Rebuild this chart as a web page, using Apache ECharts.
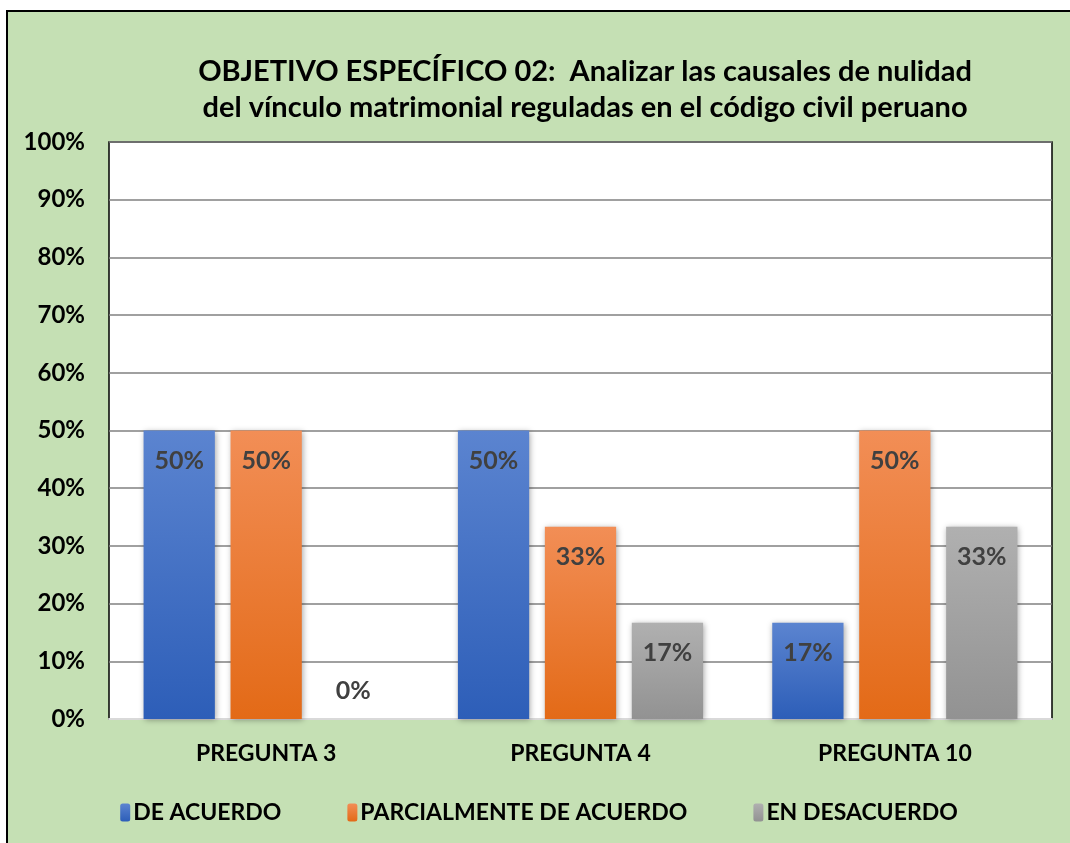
<!DOCTYPE html>
<html>
<head>
<meta charset="utf-8">
<script src="https://cdn.jsdelivr.net/npm/echarts@6/dist/echarts.min.js"></script>
<style>
  html, body { margin: 0; padding: 0; background: #fff; }
  #frame {
    position: absolute; left: 6px; top: 10px;
    border-left: 2px solid #000; border-top: 2px solid #000;
    background: #c5e0b4;
  }
  #chart { width: 1062px; height: 831px; }
</style>
</head>
<body>
<div id="frame"><div id="chart"></div></div>
<script>
// datos del gráfico
var preguntas = ['PREGUNTA 3', 'PREGUNTA 4', 'PREGUNTA 10'];
var deAcuerdo = [50, 50, 16.7];
var parcialmente = [50, 33.3, 50];
var desacuerdo = [0, 16.7, 33.3];
var nombres = ['DE ACUERDO', 'PARCIALMENTE DE ACUERDO', 'EN DESACUERDO'];

var FONT = 'Lato';

function degradado(arriba, abajo) {
  return new echarts.graphic.LinearGradient(0, 0, 0, 1, [
    { offset: 0, color: arriba },
    { offset: 1, color: abajo }
  ]);
}

// el 0% se dibuja encima del eje
function puntos(valores) {
  return valores.map(function (v) {
    if (v === 0) {
      return { value: v, label: { position: 'insideBottom', distance: 16 } };
    }
    return v;
  });
}

function serie(nombre, valores, arriba, abajo) {
  return {
    name: nombre,
    type: 'bar',
    data: puntos(valores),
    barGap: '22%',
    barCategoryGap: '22%',
    itemStyle: {
      color: degradado(arriba, abajo),
      shadowColor: 'rgba(0,0,0,0.35)',
      shadowBlur: 6,
      shadowOffsetX: 1,
      shadowOffsetY: 1
    },
    label: {
      show: true,
      position: 'insideTop',
      distance: 18,
      color: '#404040',
      fontFamily: FONT,
      fontWeight: 'bold',
      fontSize: 25,
      formatter: function (p) { return Math.round(p.value) + '%'; }
    }
  };
}

var myChart = echarts.init(document.getElementById('chart'));

var option = {
  animation: false,
  backgroundColor: '#c5e0b4',
  title: {
    text: 'OBJETIVO ESPECÍFICO 02:  Analizar las causales de nulidad\ndel vínculo matrimonial reguladas en el código civil peruano',
    left: 577,
    top: 42,
    padding: 0,
    textAlign: 'center',
    textStyle: {
      fontFamily: FONT,
      fontWeight: 'bold',
      fontSize: 29,
      lineHeight: 36,
      color: '#000'
    }
  },
  legend: {
    data: nombres,
    left: 'center',
    top: 784,
    itemWidth: 10,
    itemHeight: 18,
    itemGap: 66,
    textStyle: {
      fontFamily: FONT,
      fontWeight: 'bold',
      fontSize: 23,
      color: '#000',
      padding: [0, 0, 0, -2]
    }
  },
  grid: {
    left: 101,
    right: 18,
    top: 130,
    bottom: 124,
    show: true,
    borderColor: '#000',
    borderWidth: 1.5,
    backgroundColor: '#fff'
  },
  xAxis: {
    type: 'category',
    data: preguntas,
    axisTick: { show: false },
    axisLine: { lineStyle: { color: '#d9d9d9', width: 2 } },
    axisLabel: {
      margin: 23,
      fontFamily: FONT,
      fontWeight: 'bold',
      fontSize: 23,
      color: '#000'
    }
  },
  yAxis: {
    type: 'value',
    min: 0,
    max: 100,
    interval: 10,
    axisLine: { show: false },
    axisTick: { show: false },
    splitLine: { lineStyle: { color: '#808080', width: 1.5 } },
    axisLabel: {
      margin: 24,
      formatter: '{value}%',
      fontFamily: FONT,
      fontWeight: 'bold',
      fontSize: 24,
      color: '#000'
    }
  },
  series: [
    serie(nombres[0], deAcuerdo, '#5b84d0', '#2d5eb8'),
    serie(nombres[1], parcialmente, '#f28e56', '#e36a17'),
    serie(nombres[2], desacuerdo, '#b0b0b0', '#929292')
  ]
};

myChart.setOption(option);
</script>
</body>
</html>
